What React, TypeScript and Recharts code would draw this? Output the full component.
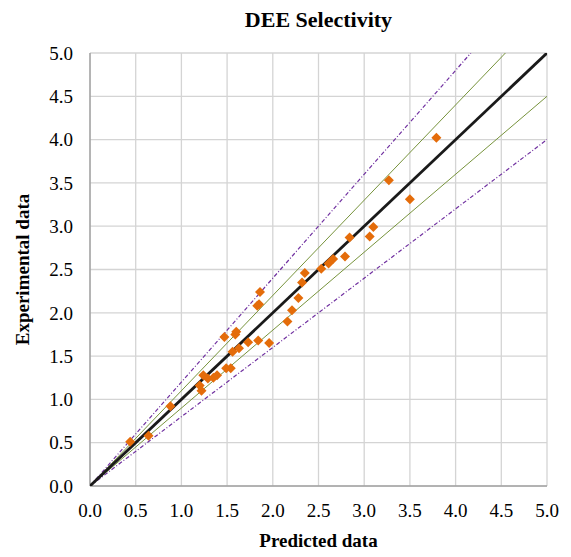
import { CartesianGrid, Scatter, ScatterChart, XAxis, YAxis } from "recharts";

const FONT = '"Liberation Serif", "Times New Roman", serif';

const axisTicks = [0, 0.5, 1, 1.5, 2, 2.5, 3, 3.5, 4, 4.5, 5];

// measured selectivity: predicted (x) vs experimental (y)
const predicted = [
  0.44, 0.64, 0.88, 1.2, 1.22, 1.24, 1.29, 1.35, 1.39, 1.49, 1.54, 1.47, 1.56, 1.59, 1.6, 1.63, 1.73,
  1.84, 1.96, 1.83, 1.85, 1.86, 2.16, 2.21, 2.28, 2.32, 2.35, 2.53, 2.61, 2.66, 2.79, 2.84, 3.06,
  3.1, 3.27, 3.5, 3.79
];
const experimental = [
  0.51, 0.58, 0.92, 1.16, 1.1, 1.28, 1.24, 1.25, 1.28, 1.36, 1.36, 1.72, 1.55, 1.75, 1.78, 1.59, 1.66,
  1.68, 1.65, 2.08, 2.1, 2.24, 1.9, 2.03, 2.17, 2.35, 2.46, 2.51, 2.57, 2.62, 2.65, 2.87, 2.88,
  2.99, 3.53, 3.31, 4.02
];

// parity line and ±10 % / ±20 % bands (end points)
const parityLine = [{ x: 0, y: 0 }, { x: 5, y: 5 }];
const plus10 = [{ x: 0, y: 0 }, { x: 4.545, y: 5 }];
const minus10 = [{ x: 0, y: 0 }, { x: 5, y: 4.5 }];
const plus20 = [{ x: 0, y: 0 }, { x: 4.167, y: 5 }];
const minus20 = [{ x: 0, y: 0 }, { x: 5, y: 4 }];

const points = predicted.map((x, i) => ({ x, y: experimental[i] }));

const noMarker = () => <g />;

function Diamond(props: any) {
  const { cx, cy } = props;
  if (cx == null || cy == null) return <g />;
  const r = 5;
  return (
    <polygon
      points={`${cx},${cy - r} ${cx + r},${cy} ${cx},${cy + r} ${cx - r},${cy}`}
      fill="#E46C0A"
    />
  );
}

const tickStyle = { fontFamily: FONT, fontSize: 19, fill: "#000" };
const fmt = (v: number) => v.toFixed(1);

export default function App() {
  return (
    <div style={{ position: "relative", width: 563, height: 549, fontFamily: FONT }}>
      <div
        style={{
          position: "absolute",
          top: 1,
          left: 82,
          width: 457,
          textAlign: "center",
          fontSize: 22,
          lineHeight: "22px",
          fontWeight: "bold"
        }}
      >
        DEE Selectivity
      </div>
      <ScatterChart
        width={563}
        height={549}
        margin={{ top: 45, right: 24, bottom: 0, left: 0 }}
        style={{ fontFamily: FONT }}
      >
        <CartesianGrid stroke="#d4d4d4" strokeWidth={1.3} />
        <XAxis
          type="number"
          dataKey="x"
          domain={[0, 5]}
          ticks={axisTicks}
          tickFormatter={fmt}
          allowDataOverflow
          height={71}
          tickLine={false}
          tickSize={0}
          tickMargin={18}
          stroke="#868686"
          tick={tickStyle}
          label={{
            value: "Predicted data",
            position: "insideBottom",
            offset: 10,
            style: { fontFamily: FONT, fontSize: 19, fontWeight: "bold", fill: "#000" }
          }}
        />
        <YAxis
          type="number"
          dataKey="y"
          domain={[0, 5]}
          ticks={axisTicks}
          tickFormatter={fmt}
          allowDataOverflow
          width={82}
          tickLine={false}
          tickSize={0}
          tickMargin={17}
          stroke="#868686"
          tick={tickStyle}
          label={{
            value: "Experimental data",
            angle: -90,
            position: "insideLeft",
            offset: 14,
            style: {
              fontFamily: FONT,
              fontSize: 19,
              fontWeight: "bold",
              fill: "#000",
              textAnchor: "middle"
            }
          }}
        />
        <Scatter
          data={plus20}
          line={{ stroke: "#7030A0", strokeWidth: 1.2, strokeDasharray: "4 2 1 2" }}
          shape={noMarker}
          isAnimationActive={false}
        />
        <Scatter
          data={minus20}
          line={{ stroke: "#7030A0", strokeWidth: 1.2, strokeDasharray: "4 2 1 2" }}
          shape={noMarker}
          isAnimationActive={false}
        />
        <Scatter
          data={plus10}
          line={{ stroke: "#77933C", strokeWidth: 1 }}
          shape={noMarker}
          isAnimationActive={false}
        />
        <Scatter
          data={minus10}
          line={{ stroke: "#77933C", strokeWidth: 1 }}
          shape={noMarker}
          isAnimationActive={false}
        />
        <Scatter
          data={parityLine}
          line={{ stroke: "#1a1a1a", strokeWidth: 2.8 }}
          shape={noMarker}
          isAnimationActive={false}
        />
        <Scatter data={points} shape={Diamond} isAnimationActive={false} />
      </ScatterChart>
    </div>
  );
}
